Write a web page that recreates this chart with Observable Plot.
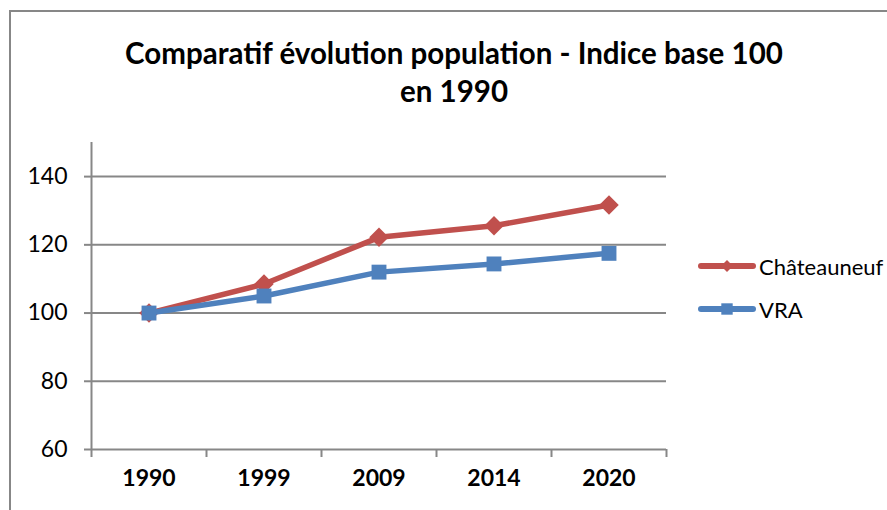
<!DOCTYPE html>
<html><head><meta charset="utf-8">
<script src="https://cdn.jsdelivr.net/npm/d3@7"></script>
<script src="https://cdn.jsdelivr.net/npm/@observablehq/plot@0.6"></script>
<style>
html,body{margin:0;padding:0;background:#fff;overflow:hidden;width:887px;height:510px}
#wrap{position:relative;width:887px;height:510px;font-family:Lato,sans-serif;overflow:hidden}
#frame{position:absolute;left:9px;top:10px;width:1000px;height:1000px;border-left:2px solid #878787;border-top:2px solid #878787;box-sizing:border-box}
#title{position:absolute;left:0;top:34px;width:908px;text-align:center;font-weight:bold;font-size:29.5px;line-height:38px;color:#000}
#chart{position:absolute;left:0;top:0}
.leg{position:absolute;left:697px;height:24px;display:flex;align-items:center;font-size:22px;color:#000}
.leg svg{margin-right:2px}
g[aria-label="y-axis tick"], g[aria-label="x-axis tick"]{stroke:#878787;stroke-width:2px}
</style></head>
<body>
<div id="wrap">
  <div id="frame"></div>
  <div id="title">Comparatif évolution population - Indice base 100<br>en 1990</div>
  <div id="chart"></div>
  <div id="legend"></div>
</div>
<script>
const years = ["1990", "1999", "2009", "2014", "2020"];
const chateauneuf = [100, 108.5, 122.2, 125.6, 131.7];
const vra = [100, 105.0, 112.0, 114.4, 117.5];
const seriesNames = ["Châteauneuf", "VRA"];
const seriesColors = ["#C0504D", "#4F81BD"];
const seriesSymbols = ["diamond2", "square"];
const yTicks = [60, 80, 100, 120, 140];
const gridValues = [80, 100, 120, 140];
const yDomain = [60, 150];

const seriesValues = [chateauneuf, vra];
const idx = (d, i) => i;
const xDomain = [-0.5, years.length - 0.5];
const boundaries = d3.range(-0.5, years.length, 1);
const grey = "#878787";

const marks = [
  Plot.ruleY(gridValues, {x1: xDomain[0], x2: xDomain[1], stroke: grey, strokeWidth: 2}),
  Plot.ruleY([yDomain[0]], {x1: xDomain[0], x2: xDomain[1], stroke: grey, strokeWidth: 2}),
  Plot.ruleX([xDomain[0]], {y1: yDomain[0], y2: yDomain[1], stroke: grey, strokeWidth: 2})
];
seriesValues.forEach((vals, s) => {
  marks.push(Plot.line(years, {x: idx, y: (d, i) => vals[i], stroke: seriesColors[s], strokeWidth: 5.5, strokeLinejoin: "round", strokeLinecap: "round"}));
  marks.push(Plot.dot(years, {x: idx, y: (d, i) => vals[i], symbol: seriesSymbols[s], r: s === 0 ? 8.8 : 8.4, fill: seriesColors[s], stroke: "none"}));
});
marks.push(Plot.text(years, {x: idx, text: d => d, frameAnchor: "bottom", dy: 36, fontWeight: "bold", fontSize: 23, fill: "#000"}));

const chart = Plot.plot({
  width: 887, height: 510,
  marginLeft: 91, marginRight: 221, marginTop: 142, marginBottom: 61,
  style: {fontFamily: "Lato, sans-serif", fontSize: "23px", color: "#000", background: "transparent"},
  x: {type: "linear", domain: xDomain, ticks: boundaries, tickSize: 8, tickFormat: () => "", label: null},
  y: {domain: yDomain, ticks: yTicks, tickSize: 7, tickPadding: 17, tickFormat: d => d, label: null},
  marks
});
document.getElementById("chart").appendChild(chart);

// legend
const legend = document.getElementById("legend");
const legTops = [254, 297];
seriesNames.forEach((name, s) => {
  const row = document.createElement("div");
  row.className = "leg";
  row.style.top = legTops[s] + "px";
  const sv = d3.create("svg").attr("width", 60).attr("height", 24);
  sv.append("line").attr("x1", 4).attr("x2", 56).attr("y1", 12).attr("y2", 12)
    .attr("stroke", seriesColors[s]).attr("stroke-width", 6).attr("stroke-linecap", "round");
  const sym = s === 0 ? d3.symbolDiamond2 : d3.symbolSquare;
  sv.append("path").attr("transform", "translate(30,12)")
    .attr("d", d3.symbol(sym, s === 0 ? 90 : 130)()).attr("fill", seriesColors[s]);
  row.appendChild(sv.node());
  const t = document.createElement("span");
  t.textContent = name;
  row.appendChild(t);
  legend.appendChild(row);
});
</script>
</body></html>
